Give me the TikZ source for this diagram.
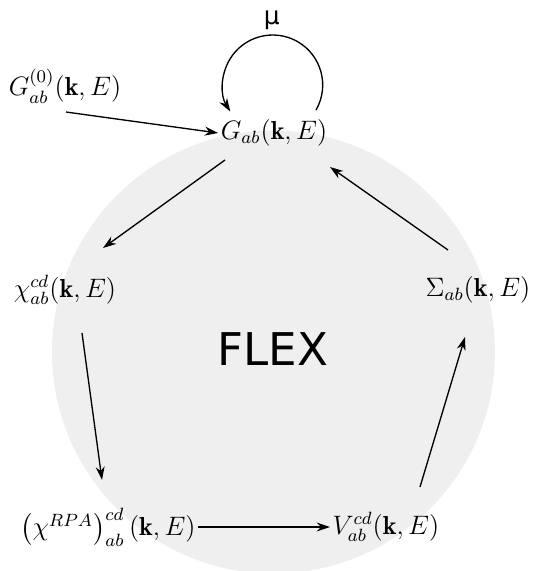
\documentclass[tikz,border=0pt]{standalone}
\usepackage{amsmath}
\usepackage{fontspec}
\usepackage{tikz}
\usetikzlibrary{arrows.meta,calc}
\newfontfamily\labelsans{DejaVu Sans}
\definecolor{flexgray}{RGB}{239,239,239}

\begin{document}
\begin{tikzpicture}[
    x=0.45pt,y=-0.45pt,
    qty/.style={inner sep=1pt,font=\fontsize{11.7}{14}\selectfont},
    arr/.style={-{Stealth[length=6pt,width=4pt]},semithick}
  ]
    \useasboundingbox (0,0) rectangle (535,571);
    \fill[flexgray] (273.5,352) circle[radius=221.5];
    \node[font=\labelsans\fontsize{20.3}{24}\selectfont] (flex) at (273,349) {FLEX};
    \node[qty] (g) at (274,133) {$G_{ab}(\mathbf{k},E)$};
    \node[qty] (g0) at (65,86) {$G^{(0)}_{ab}(\mathbf{k},E)$};
    \node[qty] (chi) at (65,290) {$\chi^{cd}_{ab}(\mathbf{k},E)$};
    \node[qty] (sig) at (478,290) {$\Sigma_{ab}(\mathbf{k},E)$};
    \node[qty] (rpa) at (108,527) {$\left(\chi^{RPA}\right)^{cd}_{ab}(\mathbf{k},E)$};
    \node[qty] (v) at (386,527) {$V^{cd}_{ab}(\mathbf{k},E)$};
    \draw[arr] ([shift={(1,26)}]g0.center) -- (g.west);
    \draw[arr] ([shift={(42,-23)}]g.center) arc[start angle=30,end angle=-212,radius=50]
      node[pos=0.5,above=2pt,inner sep=0pt,font=\labelsans\fontsize{11.2}{13}\selectfont] (mu) {μ};
    \draw[arr] ([shift={(-49,27)}]g.center) -- ([shift={(38,-42)}]chi.center);
    \draw[arr] ([shift={(17,43)}]chi.center) -- ([shift={(-6,-47)}]rpa.center);
    \draw[arr] (rpa.east) -- (v.west);
    \draw[arr] ([shift={(34,-40)}]v.center) -- ([shift={(-13,47)}]sig.center);
    \draw[arr] ([shift={(-30,-40)}]sig.center) -- ([shift={(56,34)}]g.center);
  \end{tikzpicture}
\end{document}
